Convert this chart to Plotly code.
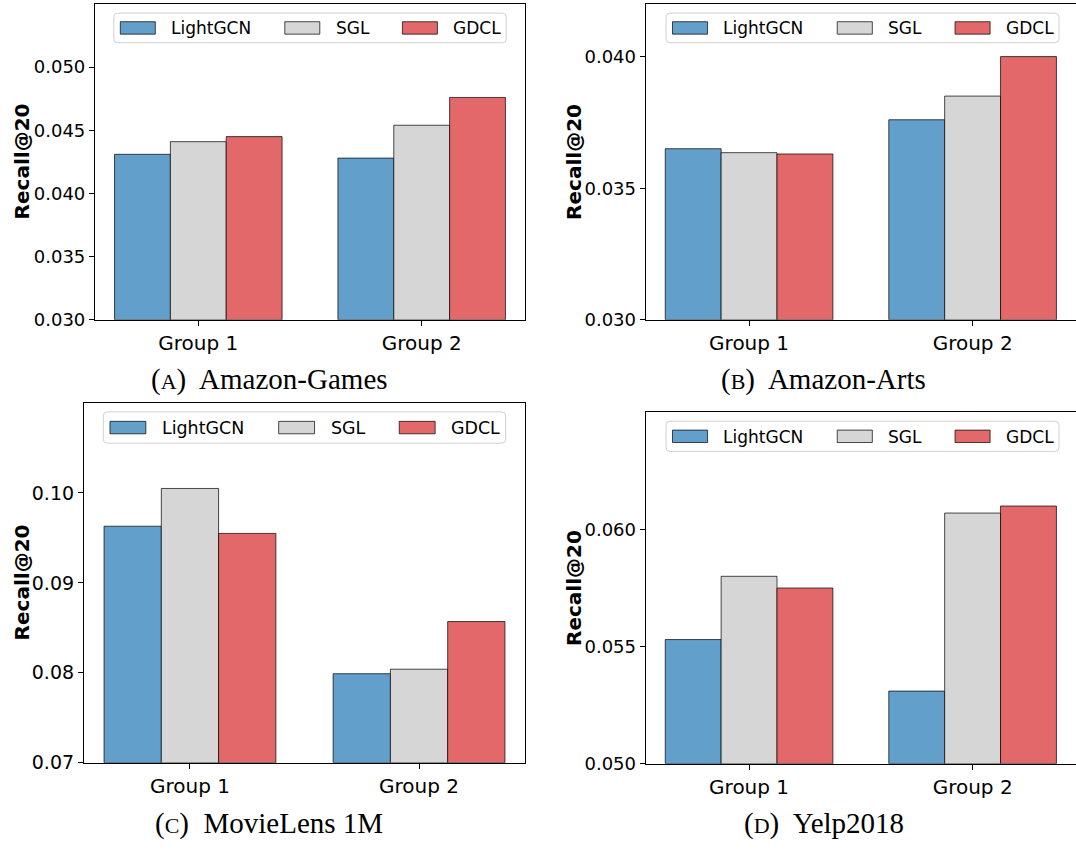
import plotly.graph_objects as go

# ---- data -------------------------------------------------------------
methods = ["LightGCN", "SGL", "GDCL"]
groups = ["Group 1", "Group 2"]

games_lightgcn = [0.0431, 0.0428]
games_sgl = [0.0441, 0.0454]
games_gdcl = [0.0445, 0.0476]

arts_lightgcn = [0.0365, 0.0376]
arts_sgl = [0.03635, 0.0385]
arts_gdcl = [0.0363, 0.0400]

ml1m_lightgcn = [0.0963, 0.0799]
ml1m_sgl = [0.1005, 0.0804]
ml1m_gdcl = [0.0955, 0.0857]

yelp_lightgcn = [0.0553, 0.0531]
yelp_sgl = [0.0580, 0.0607]
yelp_gdcl = [0.0575, 0.0610]

games_ticks = [0.030, 0.035, 0.040, 0.045, 0.050]
arts_ticks = [0.030, 0.035, 0.040]
ml1m_ticks = [0.07, 0.08, 0.09, 0.10]
yelp_ticks = [0.050, 0.055, 0.060]

captions = ["Amazon-Games", "Amazon-Arts", "MovieLens 1M", "Yelp2018"]
caption_tags = ["A", "B", "C", "D"]

# ---- styling ----------------------------------------------------------
W, H = 1076, 853
colors = ["#629fca", "#d6d6d6", "#e26869"]
edge = "rgba(0,0,0,0.7)"
sans = "DejaVu Sans"
serif = "Liberation Serif"

# panel rectangles in pixels: left, top, right, bottom
panels = [
    dict(rect=(95, 4, 525, 324), yr=(0.030, 0.055), ticks=games_ticks, fmt=".3f",
         data=[games_lightgcn, games_sgl, games_gdcl], right=True,
         legend=(113.8, 13.3, 506.2, 43.3), label_x=21.5, cap=(269, 384), tick=18),
    dict(rect=(645.7, 4, 1076, 324), yr=(0.030, 0.042), ticks=arts_ticks, fmt=".3f",
         data=[arts_lightgcn, arts_sgl, arts_gdcl], right=False,
         legend=(666.0, 13.3, 1059.0, 43.3), label_x=574, cap=(823.5, 384), tick=18),
    dict(rect=(84, 408.3, 525, 772.7), yr=(0.07, 0.11), ticks=ml1m_ticks, fmt=".2f",
         data=[ml1m_lightgcn, ml1m_sgl, ml1m_gdcl], right=True,
         legend=(103.3, 417.3, 505.7, 449.0), label_x=21.5, cap=(269.3, 834), tick=19),
    dict(rect=(645.7, 417.7, 1076, 773.7), yr=(0.050, 0.065), ticks=yelp_ticks, fmt=".3f",
         data=[yelp_lightgcn, yelp_sgl, yelp_gdcl], right=False,
         legend=(666.0, 426.7, 1059.0, 457.3), label_x=574, cap=(823.5, 834), tick=18),
]


def px(x):
    return x / W


def py(y):
    return 1 - y / H


fig = go.Figure()
shapes = []
annotations = []
layout_axes = {}

for i, p in enumerate(panels):
    n = "" if i == 0 else str(i + 1)
    xa, ya = "x" + n, "y" + n
    l, t, r, b = p["rect"]
    floor = p["yr"][0]

    for k, (name, vals) in enumerate(zip(methods, p["data"])):
        # bars start at the axis floor, so heights are measured above it
        fig.add_trace(go.Bar(
            x=[0, 1], y=[v - floor for v in vals], base=floor,
            name=name, showlegend=False,
            width=0.25, offset=-0.375 + 0.25 * k,
            marker=dict(color=colors[k], line=dict(color=edge, width=1)),
            xaxis=xa, yaxis=ya,
        ))

    layout_axes["xaxis" + n] = dict(
        domain=[px(l), min(px(r), 1.0)], anchor=ya,
        range=[-0.4625, 1.4625], tickvals=[0, 1], ticktext=groups,
        showgrid=False, zeroline=False, showline=True, linecolor="black",
        linewidth=1.2, mirror=True, ticks="outside", ticklen=5, tickwidth=1.2,
        tickcolor="black", tickfont=dict(family=sans, size=20, color="black"),
        fixedrange=True,
    )
    layout_axes["yaxis" + n] = dict(
        domain=[py(b), py(t)], anchor=xa, range=list(p["yr"]),
        tickvals=p["ticks"], tickformat=p["fmt"],
        showgrid=False, zeroline=False, showline=True, linecolor="black",
        linewidth=1.2, mirror=p["right"], ticks="outside", ticklen=5,
        tickwidth=1.2, tickcolor="black",
        tickfont=dict(family=sans, size=p["tick"], color="black"),
        fixedrange=True,
    )

    # y-axis title
    annotations.append(dict(
        x=px(p["label_x"]), y=py((t + b) / 2), xref="paper", yref="paper",
        text="<b>Recall@20</b>", textangle=-90, showarrow=False,
        xanchor="center", yanchor="middle",
        font=dict(family=sans, size=20, color="black"),
    ))

    # legend box with rounded corners
    fl, ft, fr, fb = p["legend"]
    rad = 4
    path = (
        f"M{px(fl + rad)},{py(ft)} L{px(fr - rad)},{py(ft)} "
        f"Q{px(fr)},{py(ft)} {px(fr)},{py(ft + rad)} "
        f"L{px(fr)},{py(fb - rad)} Q{px(fr)},{py(fb)} {px(fr - rad)},{py(fb)} "
        f"L{px(fl + rad)},{py(fb)} Q{px(fl)},{py(fb)} {px(fl)},{py(fb - rad)} "
        f"L{px(fl)},{py(ft + rad)} Q{px(fl)},{py(ft)} {px(fl + rad)},{py(ft)} Z"
    )
    shapes.append(dict(type="path", path=path, xref="paper", yref="paper",
                       fillcolor="rgba(255,255,255,0.8)",
                       line=dict(color="#d0d0d0", width=1), layer="above"))
    scale = (fr - fl) / 392.4
    patch_off = [6.5, 171.0, 288.6]
    text_off = [55.0, 220.0, 337.2]
    cy = (ft + fb) / 2
    for k, name in enumerate(methods):
        x0 = fl + patch_off[k] * scale
        shapes.append(dict(
            type="rect", xref="paper", yref="paper",
            x0=px(x0), x1=px(x0 + 35 * scale),
            y0=py(cy + 6.3), y1=py(cy - 6.3),
            fillcolor=colors[k], line=dict(color=edge, width=1), layer="above",
        ))
        annotations.append(dict(
            x=px(fl + text_off[k] * scale), y=py(cy + 0.5), xref="paper",
            yref="paper", text=name, showarrow=False, xanchor="left",
            yanchor="middle", font=dict(family=sans, size=17 * scale, color="black"),
        ))

    # sub-figure caption
    cx, cyc = p["cap"]
    annotations.append(dict(
        x=px(cx), y=py(cyc), xref="paper", yref="paper", showarrow=False,
        xanchor="center", yanchor="middle",
        text=f"(<span style='font-size:22px'>{caption_tags[i]}</span>)&nbsp; {captions[i]}",
        font=dict(family=serif, size=29, color="black"),
    ))

fig.update_layout(
    width=W, height=H, margin=dict(l=0, r=0, t=0, b=0),
    paper_bgcolor="white", plot_bgcolor="white", barmode="overlay",
    shapes=shapes, annotations=annotations, showlegend=False,
    **layout_axes,
)

fig.write_html("out.html", config=dict(displayModeBar=False))
